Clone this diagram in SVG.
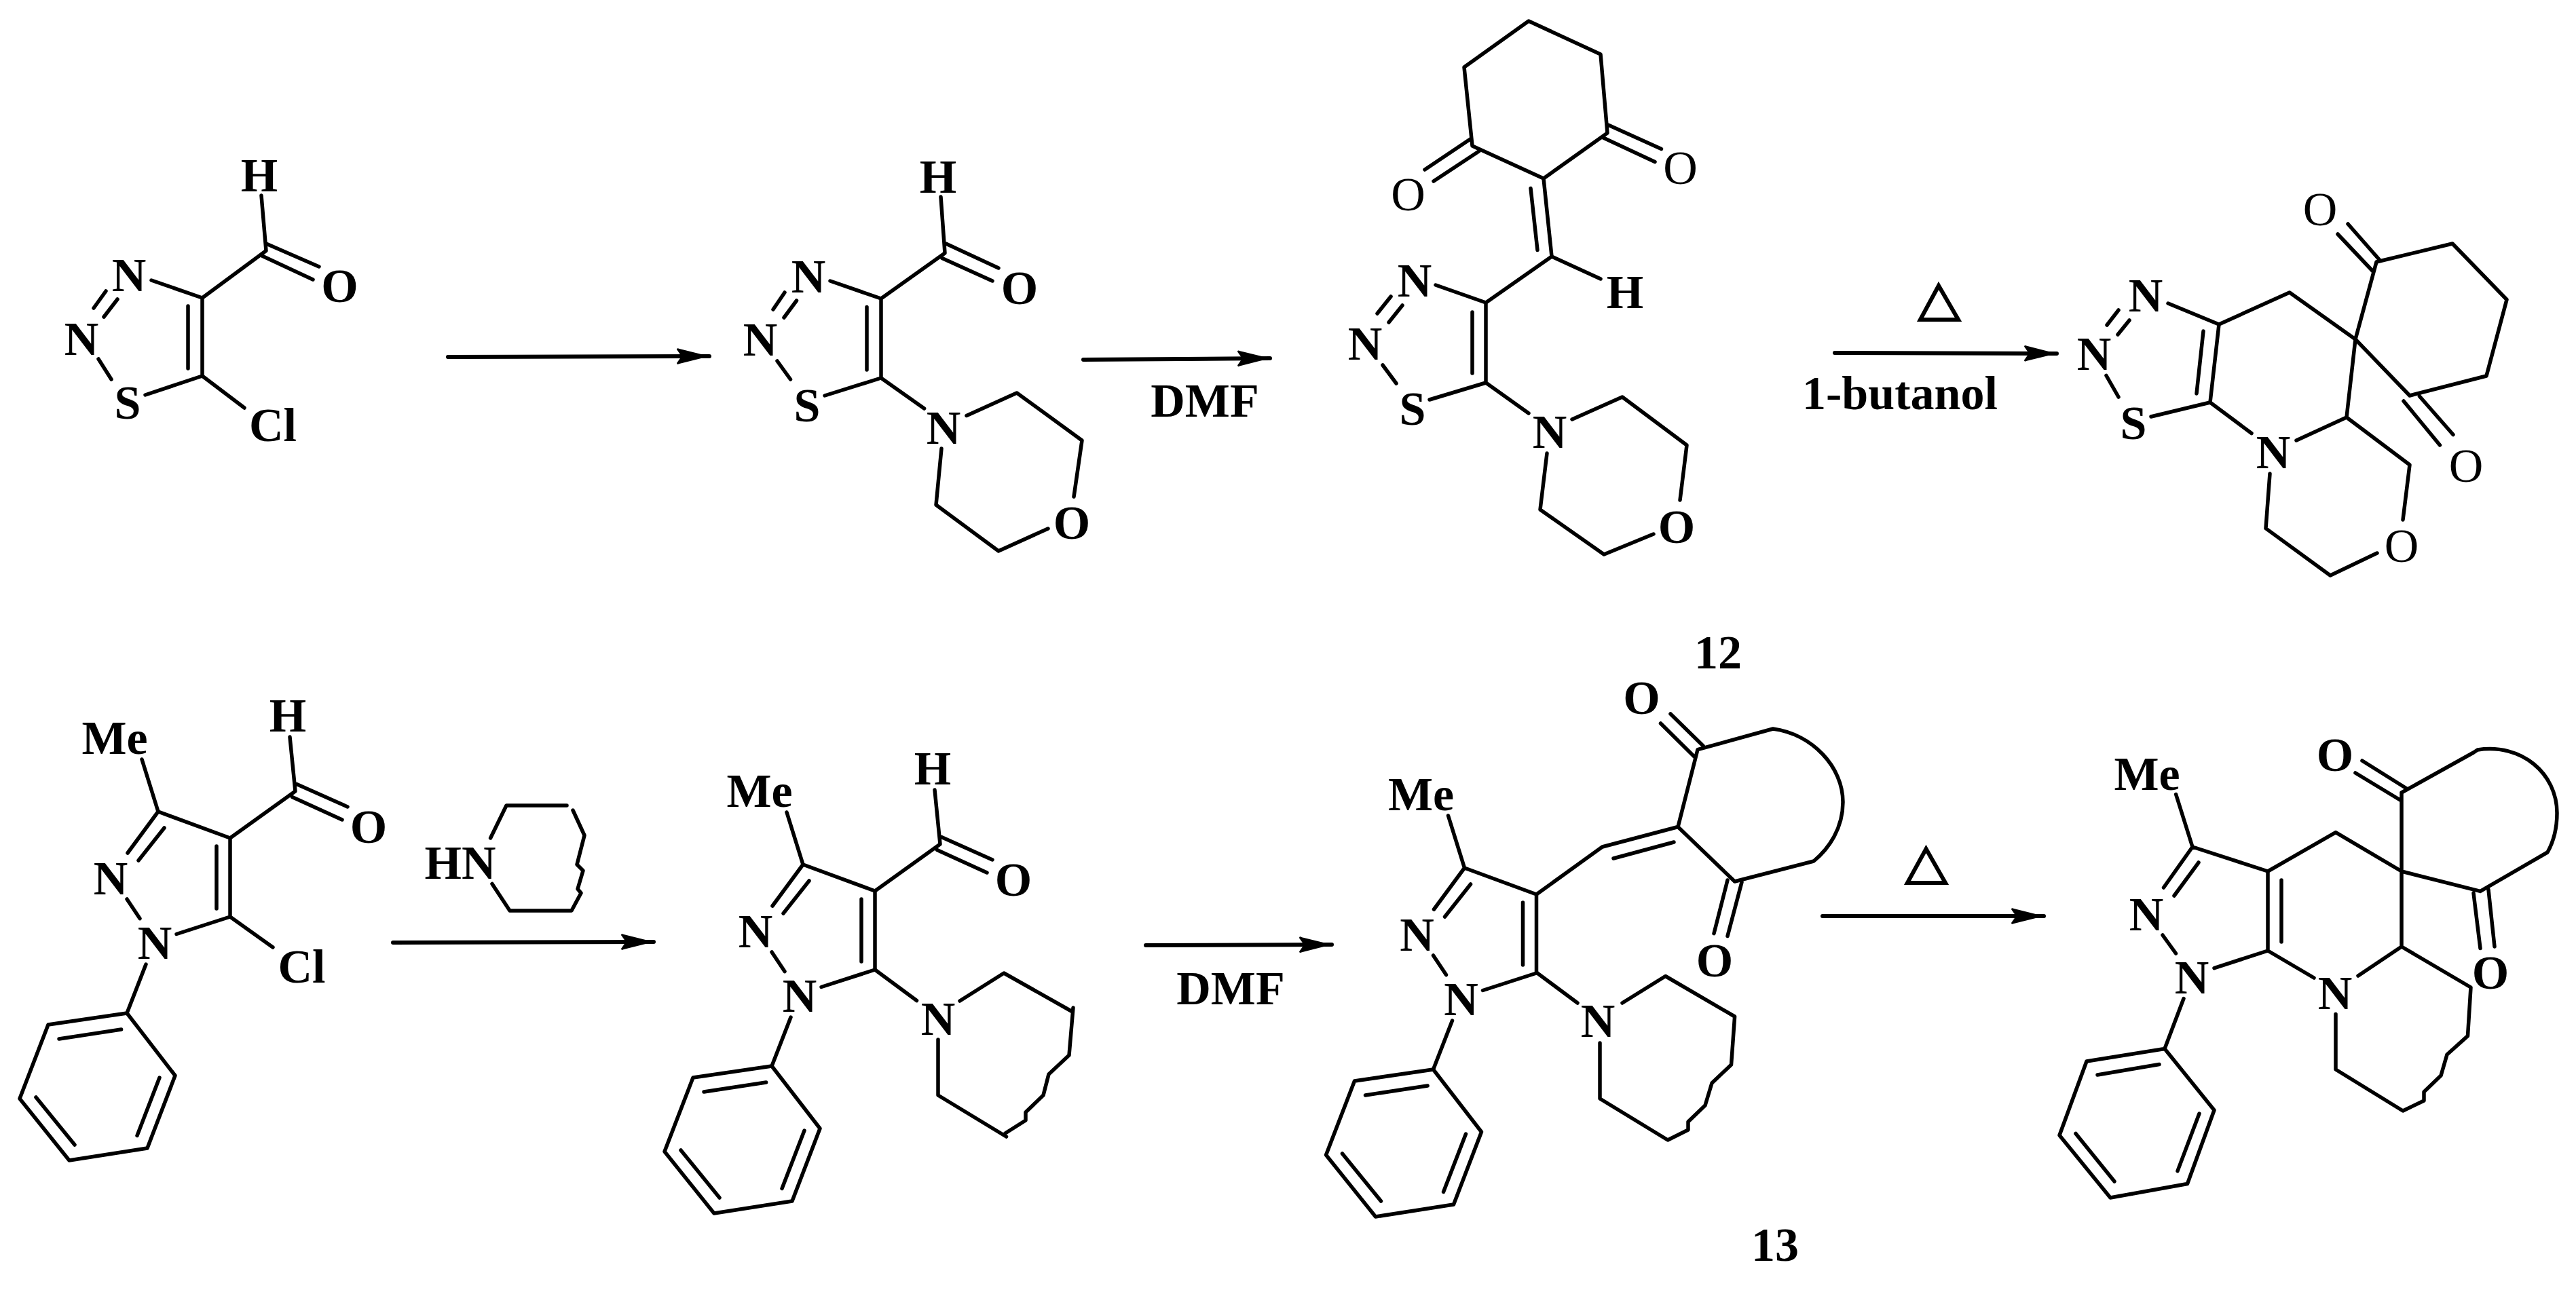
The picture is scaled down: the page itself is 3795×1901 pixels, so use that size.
<svg xmlns="http://www.w3.org/2000/svg" width="3795" height="1901" viewBox="0 0 3795 1901">
<style>
.b{fill:none;stroke:#000;stroke-width:5.500;stroke-linecap:round;stroke-linejoin:round}
.a{fill:none;stroke:#000;stroke-width:6;stroke-linecap:round}
.d{fill:none;stroke:#000;stroke-width:6;stroke-linejoin:miter}
text{font-family:"Liberation Serif","Times New Roman",serif;font-size:70px;font-weight:bold;text-anchor:middle;fill:#000}
text.r{font-weight:normal}
</style>
<defs>
<marker id="head" markerUnits="userSpaceOnUse" markerWidth="52" markerHeight="28" refX="48" refY="12" orient="auto" overflow="visible">
<path d="M0 2Q0 -1 4 1L48 12L4 23Q0 25 0 22L7 12Z" fill="#000"/>
</marker>
</defs>
<rect width="3795" height="1901" fill="#fff"/>
<g id="connectors">
<path class="a" d="M660 526L1045 525" marker-end="url(#head)"/>
<path class="a" d="M1596 530L1871 528" marker-end="url(#head)"/>
<path class="a" d="M2703 520L3030 521" marker-end="url(#head)"/>
<path class="a" d="M579 1389L963 1388" marker-end="url(#head)"/>
<path class="a" d="M1688 1393L1962 1392" marker-end="url(#head)"/>
<path class="a" d="M2685 1350L3011 1350" marker-end="url(#head)"/>
</g>
<g id="reagents">
<text x="1775" y="614">DMF</text>
<text x="1813" y="1480">DMF</text>
<text x="2799" y="603">1-butanol</text>
<path class="d" d="M2856 421L2829 471L2885 471Z"/>
<path class="d" d="M2837.500 1251L2810 1301L2866 1301Z"/>
<text x="2531" y="985">12</text>
<text x="2615" y="1858">13</text>
</g>
<g id="mol-1">
<path class="b" d="M385 288L392 369.500L298 439L298 554L360 601M298 554L214 582M298 439L223 413M392 359L470 393M386 377L461 412M277 451L277 543M156 429L138 454M173 441L153 467M145 529L164 559"/>
<text x="382" y="282">H</text><text x="500.500" y="445">O</text><text x="190" y="429">N</text><text x="120" y="523">N</text><text x="188" y="617">S</text><text x="402" y="650">Cl</text>
</g>
<g id="mol-2">
<path class="b" d="M1386 290L1392 373L1298 440L1298 557L1361.600 602M1393.500 359L1471 395M1388 380.500L1462 414M1277 452.500L1277 545M1298 440L1223 414M1298 557L1215 583M1156 431L1139 456M1173.500 443L1155 468M1145 532L1164.500 559M1424 612.500L1498 579L1594 649L1582 732M1544 779L1471 812L1379 744L1387 661"/>
<text x="1382" y="283.500">H</text><text x="1502" y="448">O</text><text x="1191" y="431">N</text><text x="1120" y="524">N</text><text x="1189" y="620.500">S</text><text x="1390" y="653.500">N</text><text x="1579" y="794">O</text>
</g>
<g id="mol-3">
<path class="b" d="M2252 31L2358 80L2368 196L2274 263L2169 215L2157 99ZM2369 184L2447.500 219.500M2362 203L2438 238.500M2166 205L2099 250M2178.600 223L2112 267M2274 263L2286 378L2358 411M2255 277.500L2265 368.600M2286 378L2189 446L2189 564L2252 609M2169 460L2169 550M2189 446L2115 420M2049 437L2029 462M2066 450L2046 475M2037 538L2057 565M2106 589L2189 564M2316 618L2390 585L2485 656L2475 737M2436 787L2363 817L2269 751L2279 668"/>
<text class="r" x="2475.500" y="271">O</text><text class="r" x="2074.500" y="310">O</text><text x="2394" y="453.500">H</text><text x="2084" y="437">N</text><text x="2011" y="530">N</text><text x="2081" y="626">S</text><text x="2283" y="660">N</text><text x="2470" y="799.500">O</text>
</g>
<g id="mol-4">
<path class="b" d="M3121 457L3104 479M3137 472L3120 493M3103 553.500L3121 585M3194 447L3269 478L3256 593L3169 614M3246 488L3236 580M3269 478L3373 431L3470 500L3501 386L3613 359L3693 441.500L3663 554L3550 583L3470 500L3457 615L3383 649M3256 593L3317 638.500M3506 383.500L3459 330M3495 399L3444 345M3564.500 584L3614 640.500M3541 591L3594.500 656M3457 615L3550 685L3540 766M3502 815L3433 848L3338 778.600L3344 698"/>
<text x="3161" y="459">N</text><text x="3085" y="545">N</text><text x="3143" y="647">S</text><text class="r" x="3418" y="332">O</text><text class="r" x="3633" y="710">O</text><text x="3349" y="690">N</text><text class="r" x="3538" y="827.500">O</text>
</g>
<g id="mol-5">
<path class="b" d="M209 1119L233 1196L339 1235L339 1351L260 1376.500M233 1196L188 1257M242 1220L204 1268M319 1247L319 1339M187 1325L206 1353.600M215 1421L187 1493L258 1585L217 1692L102 1710L29 1619L71 1510L187 1493M178.600 1517L87 1531M235 1588L202 1673.500M110 1687L53 1617M427 1086L435 1166L339 1235M437 1155.600L512 1189M430.500 1174.500L504 1208M339 1351L402 1396"/>
<text x="169" y="1111">Me</text><text x="424" y="1077.500">H</text><text x="543" y="1242">O</text><text x="163" y="1318">N</text><text x="228" y="1413">N</text><text x="444.500" y="1448">Cl</text>
</g>
<g id="amine">
<path class="b" d="M722.600 1235L746 1187L835 1187M844 1194L861 1231L850 1274L859 1283L851 1310L856 1316L842 1342L751 1342L725 1302.500"/>
<text x="678" y="1295">HN</text>
</g>
<g id="mol-6">
<g transform="translate(950,78)">
<path class="b" d="M209 1119L233 1196L339 1235L339 1351L260 1376.500M233 1196L188 1257M242 1220L204 1268M319 1247L319 1339M187 1325L206 1353.600M215 1421L187 1493L258 1585L217 1692L102 1710L29 1619L71 1510L187 1493M178.600 1517L87 1531M235 1588L202 1673.500M110 1687L53 1617M427 1086L435 1166L339 1235M437 1155.600L512 1189M430.500 1174.500L504 1208"/>
<text x="169" y="1111">Me</text><text x="424" y="1077.500">H</text><text x="543" y="1242">O</text><text x="163" y="1318">N</text><text x="228" y="1413">N</text>
</g>
<path class="b" d="M1289 1429L1350.500 1474.500M1414 1475L1479 1434L1580 1491M1581 1485L1575 1555L1545 1583L1537 1614L1511 1639L1511 1651L1481 1670M1482.500 1675L1382 1614L1382 1532"/>
<text x="1382" y="1524.500">N</text>
</g>
<g id="mol-7">
<g transform="translate(1924.500,83)">
<path class="b" d="M209 1119L233 1196L339 1235L339 1351L260 1376.500M233 1196L188 1257M242 1220L204 1268M319 1247L319 1339M187 1325L206 1353.600M215 1421L187 1493L258 1585L217 1692L102 1710L29 1619L71 1510L187 1493M178.600 1517L87 1531M235 1588L202 1673.500M110 1687L53 1617"/>
<text x="169" y="1111">Me</text><text x="163" y="1318">N</text><text x="228" y="1413">N</text>
</g>
<path class="b" d="M2263.500 1318L2360.500 1248L2472 1218.500L2501 1104.600L2612 1074C2670 1082 2715 1130 2715 1182C2715 1220 2695 1250 2672 1269L2555.600 1299L2472 1218.500M2377 1265L2466 1241M2509 1099L2461 1052M2496 1115L2446.500 1066M2566 1300L2545 1379.500M2545 1297L2525 1375.600M2263.500 1433L2324 1478M2390 1478L2453.600 1438.500L2555.600 1498L2550.500 1569L2522 1596L2512 1629L2487 1653L2487 1665L2457 1680L2357 1619L2357 1537"/>
<text x="2418.500" y="1052">O</text><text x="2526" y="1439">O</text><text x="2354" y="1528">N</text>
</g>
<g id="mol-8">
<path class="b" d="M3205.600 1170.500L3230 1248L3341 1284L3341 1401L3262 1426.600M3230 1248L3187.500 1308M3239 1271L3203 1320M3361 1297L3361 1388M3186 1378L3205.500 1405M3217 1471.500L3189 1545.500L3262 1636L3222.500 1744.500L3109 1765L3034 1673L3074 1564L3189 1545.500M3181 1568.500L3090 1584M3240 1641L3208 1725.600M3115 1741L3058 1670.500M3341 1284L3441 1226.600L3538 1284M3538 1168L3538 1395M3538 1284L3654 1313.400M3538 1168L3644 1109L3650 1105C3715 1095 3767 1140 3767 1198C3767 1220 3762 1240 3753 1256L3654 1313.400M3547 1163L3480 1121M3536 1179L3470 1139M3666 1311L3675 1395M3644 1316L3654 1397.600M3341 1401L3409 1441M3474 1438L3538 1395L3640 1455L3635.500 1526.600L3605 1554L3596 1585L3571 1609L3571 1622L3540 1637L3441 1576L3441 1494.500"/>
<text x="3163" y="1164">Me</text><text x="3162" y="1370.500">N</text><text x="3229" y="1464">N</text><text x="3440" y="1136">O</text><text x="3669" y="1457">O</text><text x="3440" y="1487">N</text>
</g>
</svg>
